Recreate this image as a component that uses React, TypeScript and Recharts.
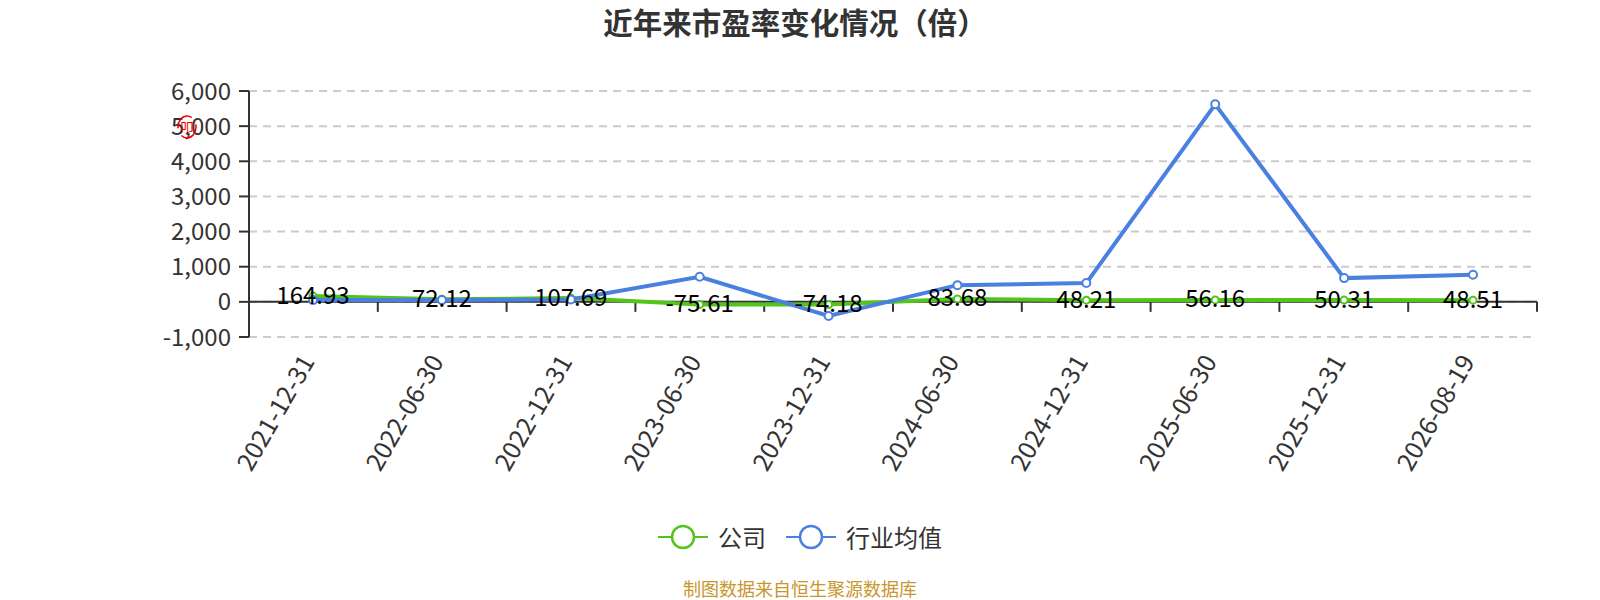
import {
  LineChart,
  Line,
  XAxis,
  YAxis,
  CartesianGrid,
  ReferenceLine,
  LabelList,
} from "recharts";

const dates = [
  "2021-12-31",
  "2022-06-30",
  "2022-12-31",
  "2023-06-30",
  "2023-12-31",
  "2024-06-30",
  "2024-12-31",
  "2025-06-30",
  "2025-12-31",
  "2026-08-19",
];
const companyPE = [164.93, 72.12, 107.69, -75.61, -74.18, 83.68, 48.21, 56.16, 50.31, 48.51];
const industryPE = [50, 50, 65, 712, -400, 476, 535, 5620, 676, 771];
const yTicks = [-1000, 0, 1000, 2000, 3000, 4000, 5000, 6000];

const GREEN = "#52c41a";
const BLUE = "#4a80e0";
const FONT = "'Noto Sans CJK SC', 'Noto Sans', sans-serif";

const data = dates.map((d, i) => ({
  date: d,
  company: companyPE[i],
  industry: industryPE[i],
}));

// rotated date labels under the plot
const DateTick = (props: any) => {
  const { x, y, payload } = props;
  const ax = x - 7;
  const ay = y + 11;
  return (
    <text
      x={ax}
      y={ay}
      transform={`rotate(-60, ${ax}, ${ay})`}
      textAnchor="end"
      dominantBaseline="central"
      fontSize={25}
      fill="#333"
      fontFamily={FONT}
    >
      {payload.value}
    </text>
  );
};

// the x axis line sits on zero, ticks on the category boundaries
const ZeroAxis = (props: any) => {
  const { x1, y1, x2 } = props;
  const left = Math.min(x1, x2);
  const right = Math.max(x1, x2);
  const step = (right - left) / dates.length;
  const ticks = [];
  for (let i = 1; i <= dates.length; i++) {
    const tx = left + step * i;
    ticks.push(<line key={i} x1={tx} y1={y1} x2={tx} y2={y1 + 10} stroke="#333" strokeWidth={2} />);
  }
  return (
    <g>
      <line x1={left} y1={y1} x2={right} y2={y1} stroke="#333" strokeWidth={2} />
      {ticks}
    </g>
  );
};

const ValueLabel = (props: any) => {
  const { x, y, value } = props;
  return (
    <text
      x={x}
      y={y - 3}
      textAnchor="middle"
      dominantBaseline="central"
      fontSize={24}
      fill="#000"
      fontFamily={FONT}
    >
      {value}
    </text>
  );
};

const LegendItem = ({ color, label }: { color: string; label: string }) => (
  <div style={{ display: "flex", alignItems: "center", marginRight: 20 }}>
    <svg width={50} height={28}>
      <line x1={0} y1={14} x2={50} y2={14} stroke={color} strokeWidth={2} />
      <circle cx={25} cy={14} r={11} fill="#fff" stroke={color} strokeWidth={2.5} />
    </svg>
    <span style={{ fontSize: 24, color: "#333", marginLeft: 10, lineHeight: "28px" }}>{label}</span>
  </div>
);

export default function App() {
  return (
    <div
      style={{
        position: "absolute",
        left: 0,
        top: 0,
        width: 1600,
        height: 600,
        background: "#fff",
        fontFamily: FONT,
      }}
    >
      <div
        style={{
          position: "absolute",
          top: 1,
          left: 0,
          width: 1590,
          textAlign: "center",
          fontSize: 29.5,
          lineHeight: "40px",
          fontWeight: "bold",
          color: "#333",
        }}
      >
        近年来市盈率变化情况（倍）
      </div>

      <LineChart
        width={1600}
        height={600}
        data={data}
        margin={{ top: 91, right: 63, left: 189, bottom: 0 }}
      >
        <CartesianGrid
          vertical={false}
          stroke="#ccc"
          strokeDasharray="8 6"
          strokeWidth={2}
        />
        <XAxis
          dataKey="date"
          interval={0}
          axisLine={false}
          tickLine={false}
          height={263}
          padding={{ left: 64, right: 64 }}
          tick={<DateTick />}
          tickSize={6}
          tickMargin={2}
        />
        <YAxis
          width={60}
          domain={[-1000, 6000]}
          ticks={yTicks}
          interval={0}
          tickFormatter={(v: number) => v.toLocaleString("en-US")}
          tick={{ fontSize: 24, fill: "#333", fontFamily: FONT }}
          axisLine={{ stroke: "#333", strokeWidth: 2 }}
          tickLine={{ stroke: "#333", strokeWidth: 2 }}
          tickSize={10}
          tickMargin={8}
        />
        <ReferenceLine y={0} shape={<ZeroAxis />} />
        <Line
          dataKey="company"
          stroke={GREEN}
          strokeWidth={4}
          dot={{ r: 3.5, fill: "#fff", stroke: GREEN, strokeWidth: 2 }}
          isAnimationActive={false}
        />
        <Line
          dataKey="industry"
          stroke={BLUE}
          strokeWidth={4}
          dot={{ r: 4, fill: "#fff", stroke: BLUE, strokeWidth: 2 }}
          isAnimationActive={false}
        />
        <Line
          dataKey="company"
          stroke="none"
          dot={false}
          activeDot={false}
          legendType="none"
          isAnimationActive={false}
        >
          <LabelList dataKey="company" content={<ValueLabel />} />
        </Line>
      </LineChart>

      {/* small red mark next to the y axis */}
      <svg style={{ position: "absolute", left: 175, top: 113 }} width={24} height={28}>
        <ellipse cx={12} cy={14} rx={9} ry={11} fill="none" stroke="#e00" strokeWidth={1.5} strokeDasharray="22 8" />
        <text x={12} y={19} textAnchor="middle" fontSize={13} fill="#e00" fontFamily={FONT}>
          叩
        </text>
      </svg>

      <div
        style={{
          position: "absolute",
          top: 523,
          left: 0,
          width: 1620,
          display: "flex",
          justifyContent: "center",
        }}
      >
        <LegendItem color={GREEN} label="公司" />
        <LegendItem color={BLUE} label="行业均值" />
      </div>

      <div
        style={{
          position: "absolute",
          top: 576,
          left: 0,
          width: 1600,
          textAlign: "center",
          fontSize: 18,
          lineHeight: "24px",
          color: "#c8962e",
        }}
      >
        制图数据来自恒生聚源数据库
      </div>
    </div>
  );
}
